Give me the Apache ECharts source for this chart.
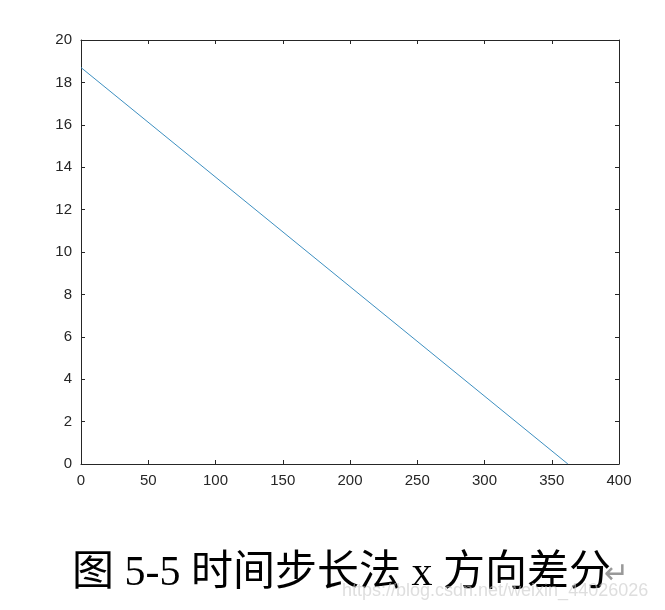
<!DOCTYPE html>
<html>
<head>
<meta charset="utf-8">
<script src="https://cdn.jsdelivr.net/npm/echarts@6/dist/echarts.min.js"></script>
<style>
  body { margin: 0; background: #fff; }
  #main { width: 665px; height: 610px; }
</style>
</head>
<body>
<div id="main"></div>
<script>
// 数据：时间步长法 x 方向差分
const xData = [0, 362];
const yData = [18.7, 0];
const caption = '图 5-5 时间步长法 x 方向差分';
const watermark = 'https://blog.csdn.net/weixin_44026026';

const chart = echarts.init(document.getElementById('main'));

const axisLine = { show: true, onZero: false, lineStyle: { color: '#262626', width: 1 } };
const tick = { show: true, inside: true, length: 4, lineStyle: { color: '#262626' } };
const label = { color: '#262626', fontSize: 15, fontFamily: 'Liberation Sans, Arial' };

const option = {
  animation: false,
  grid: { left: 81, right: 46, top: 40, bottom: 146 },
  xAxis: [
    {
      type: 'value', min: 0, max: 400, interval: 50,
      axisLine: axisLine, axisTick: tick,
      axisLabel: Object.assign({ margin: 9 }, label),
      splitLine: { show: false }
    },
    {
      type: 'value', position: 'top', min: 0, max: 400, interval: 50,
      axisLine: axisLine, axisTick: tick,
      axisLabel: { show: false }, splitLine: { show: false }
    }
  ],
  yAxis: [
    {
      type: 'value', min: 0, max: 20, interval: 2,
      axisLine: axisLine, axisTick: tick,
      axisLabel: Object.assign({ margin: 9 }, label),
      splitLine: { show: false }
    },
    {
      type: 'value', position: 'right', min: 0, max: 20, interval: 2,
      axisLine: axisLine, axisTick: tick,
      axisLabel: { show: false }, splitLine: { show: false }
    }
  ],
  series: [
    {
      type: 'line',
      data: xData.map((x, i) => [x, yData[i]]),
      showSymbol: false,
      lineStyle: { color: '#3d8fc0', width: 1 }
    }
  ],
  graphic: [
    {
      type: 'text', left: 72, top: 553,
      style: { text: caption, fontSize: 42, fill: '#000', fontFamily: 'Liberation Serif, Noto Sans CJK SC' }
    },
    {
      type: 'text', left: 604, top: 560,
      style: { text: '↵', fontSize: 30, fill: '#999', fontFamily: 'DejaVu Sans' }
    },
    {
      type: 'text', left: 342, top: 582,
      style: { text: watermark, fontSize: 18, fill: 'rgba(200,200,200,0.6)', fontFamily: 'Liberation Sans, Arial' }
    }
  ]
};

chart.setOption(option);
</script>
</body>
</html>
